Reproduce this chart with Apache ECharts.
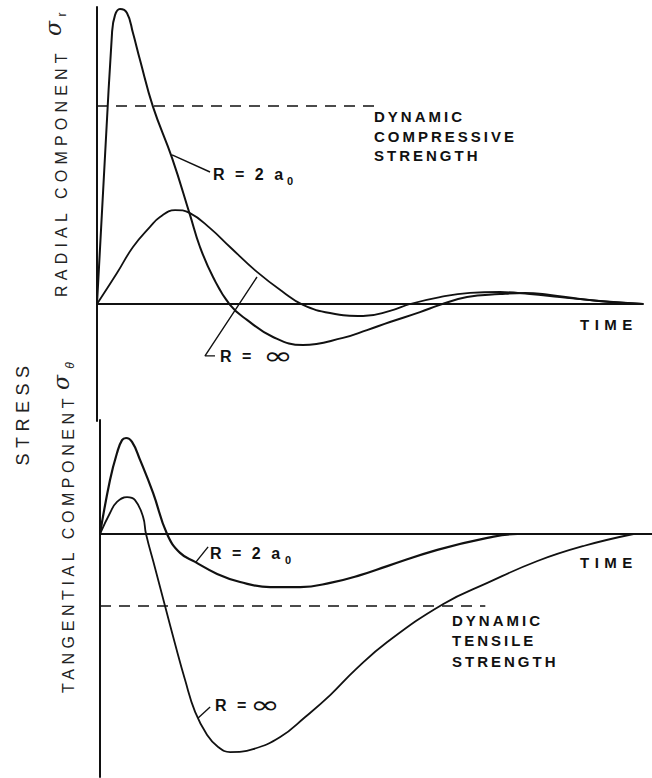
<!DOCTYPE html>
<html><head><meta charset="utf-8">
<style>html,body{margin:0;padding:0;background:#fff}#c{width:652px;height:778px}#c text{letter-spacing:3px}</style>
<script src="https://cdn.jsdelivr.net/npm/echarts@6/dist/echarts.min.js"></script>
</head><body><div id="c"></div>
<script>
// Radial component (upper panel): [time, stress] in arbitrary units
const radialR2a0 = [[0,0],[2.75,90.3],[3.3,96.3],[4.21,98.3],[5.49,97.0],[6.59,90.3],[7.88,81.3],[10.26,65.7],[13.74,48.7],[17.03,29.7],[18.86,19.0],[21.25,9.0],[24.36,-0.3],[27.47,-5.3],[32.23,-11.0],[37.73,-13.7],[45.05,-11.3],[49.45,-8.7],[53.66,-6.0],[59.16,-2.7],[62.82,-0.3],[67.77,2.3],[73.81,3.3],[78.39,3.7],[82.97,3.0],[88.46,1.7],[93.96,0.7],[100,0]];
const radialRinf = [[0,0],[3.66,10.3],[6.59,19.0],[9.71,25.7],[11.54,29.0],[14.29,31.3],[17.03,30.3],[20.7,25.3],[24.36,19.0],[29.3,10.7],[34.07,4.0],[37.73,-0.3],[42.67,-3.0],[48.72,-4.0],[53.66,-2.3],[57.33,0],[62.82,2.3],[68.32,3.7],[73.81,4.0],[79.3,3.3],[84.8,2.3],[92.12,1.0],[100,0]];
const compressiveStrength = [[0,66],[51.8,66]];
// Tangential component (lower panel)
const tangR2a0 = [[0,0],[1.83,18.0],[3.11,27.0],[4.03,31.3],[4.76,32.0],[5.86,30.7],[7.33,24.7],[9.71,13.7],[12.27,0],[14.65,-6.3],[17.4,-9.3],[21.43,-13.3],[25.64,-16.0],[31.14,-17.7],[36.63,-17.7],[42.12,-16.3],[47.62,-13.7],[52.56,-10.7],[61.72,-5.3],[70.88,-1.3],[76.37,0],[84.25,0],[98,0]];
const tangRinf = [[0,0],[1.83,7.0],[3.11,10.7],[4.95,12.3],[6.41,11.3],[7.88,5.7],[8.42,0],[10.07,-11.3],[11.9,-24.0],[13.74,-36.7],[15.57,-48.7],[17.4,-59.3],[19.6,-67.0],[21.61,-71.0],[23.81,-72.7],[28.02,-71.7],[32.97,-67.7],[37.55,-61.0],[42.12,-53.7],[46.7,-45.3],[52.56,-36.0],[62.82,-23.3],[70.88,-16.3],[80.04,-9.0],[88.46,-4.0],[97.62,0]];
const tensileStrength = [[0,-24],[70.5,-24]];
// Leader lines for curve labels
const leadTopR2a0 = [[13.74,49.7],[20.7,44.0]];
const leadTopRinf = [[29.3,9.0],[19.78,-17.3],[21.61,-17.3]];
const leadBotR2a0 = [[17.58,-9.3],[19.78,-4.3]];
const leadBotRinf = [[17.95,-61.3],[20.15,-57.7]];

const INK = '#111';
const FONT = 'Liberation Sans, Arial, Helvetica, sans-serif';

function curve(data, gi, w) {
  return {type:'line', data, xAxisIndex:gi, yAxisIndex:gi, showSymbol:false, smooth:0.45,
    lineStyle:{color:INK, width:w}, silent:true, z:3};
}
function straight(data, gi, w, type) {
  return {type:'line', data, xAxisIndex:gi, yAxisIndex:gi, showSymbol:false, smooth:false,
    lineStyle:{color:INK, width:w, type:type||'solid'}, silent:true, z:2};
}
function txt(x, y, text, o) {
  o = o || {};
  return {type:'text', x, y, rotation:o.rot||0, scaleX:o.sx||1, silent:true,
    style:{text, fill:o.fill||INK, fontSize:o.size||15, fontFamily:o.family||FONT, fontWeight:o.weight||'bold',
      fontStyle:o.style||'normal', align:o.align||'left', verticalAlign:'middle', lineHeight:o.lh}};
}
const axisCommon = {axisTick:{show:false}, axisLabel:{show:false}, splitLine:{show:false}};
const option = {
  animation:false,
  backgroundColor:'#fff',
  grid:[{left:97, top:7, width:546, height:414}, {left:100, top:420, width:552, height:357}],
  xAxis:[
    Object.assign({type:'value', gridIndex:0, min:0, max:100, axisLine:{onZero:true, lineStyle:{color:INK, width:2}}}, axisCommon),
    Object.assign({type:'value', gridIndex:1, min:0, max:101, axisLine:{onZero:true, lineStyle:{color:INK, width:2}}}, axisCommon)
  ],
  yAxis:[
    Object.assign({type:'value', gridIndex:0, min:-39, max:99, axisLine:{show:true, lineStyle:{color:INK, width:2}}}, axisCommon),
    Object.assign({type:'value', gridIndex:1, min:-81, max:38, axisLine:{show:true, lineStyle:{color:INK, width:2}}}, axisCommon)
  ],
  series:[
    curve(radialR2a0,0,2), curve(radialRinf,0,1.8), straight(compressiveStrength,0,1.3,[11,8]),
    curve(tangR2a0,1,2.2), curve(tangRinf,1,1.8), straight(tensileStrength,1,1.3,[11,8]),
    straight(leadTopR2a0,0,1.4), straight(leadTopRinf,0,1.4), straight(leadBotR2a0,1,1.4), straight(leadBotRinf,1,1.4)
  ],
  graphic:[
    txt(374,136,'DYNAMIC\nCOMPRESSIVE\nSTRENGTH',{lh:19.5}),
    txt(452,640.5,'DYNAMIC\nTENSILE\nSTRENGTH',{lh:20.5}),
    txt(580,324,'TIME'),
    txt(580,562,'TIME'),
    txt(213,174,'R = 2 a',{size:16}), txt(287,181,'0',{size:11}),
    txt(220,356,'R =',{size:16}), txt(263,356,'∞',{size:24, family:'DejaVu Sans', weight:'normal', sx:1.5}),
    txt(210,553,'R = 2 a',{size:16}), txt(285,560,'0',{size:11}),
    txt(215,705,'R =',{size:16}), txt(250,705,'∞',{size:24, family:'DejaVu Sans', weight:'normal', sx:1.5}),
    txt(61,297,'RADIAL COMPONENT',{rot:Math.PI/2, size:16, weight:'normal', fill:'#222'}),
    txt(53,27,'σ',{rot:Math.PI/2, size:22, weight:'normal', style:'italic', family:'DejaVu Serif', align:'center', fill:'#222'}),
    txt(62,13,'r',{rot:Math.PI/2, size:12, weight:'normal', align:'center', fill:'#222'}),
    txt(23,413,'STRESS',{rot:Math.PI/2, size:18, weight:'normal', align:'center', fill:'#222'}),
    txt(68,693,'TANGENTIAL COMPONENT',{rot:Math.PI/2, size:16, weight:'normal', fill:'#222'}),
    txt(61,381,'σ',{rot:Math.PI/2, size:22, weight:'normal', style:'italic', family:'DejaVu Serif', align:'center', fill:'#222'}),
    txt(70,364,'θ',{rot:Math.PI/2, size:12, weight:'normal', style:'italic', align:'center', fill:'#222'})
  ]
};
const chart = echarts.init(document.getElementById('c'), null, {renderer:'svg', width:652, height:778});
chart.setOption(option);
const spacingMap = {'RADIAL COMPONENT':5.2, 'TANGENTIAL COMPONENT':4.6, 'STRESS':5.5, 'TIME':5.5};
function applySpacing() {
  document.querySelectorAll('#c text').forEach(function (t) {
    const s = t.textContent;
    const ls = spacingMap[s] !== undefined ? spacingMap[s] : 3;
    t.setAttribute('letter-spacing', ls);
    t.style.letterSpacing = ls + 'px';
  });
}
applySpacing();
chart.on('finished', applySpacing);
</script></body></html>
